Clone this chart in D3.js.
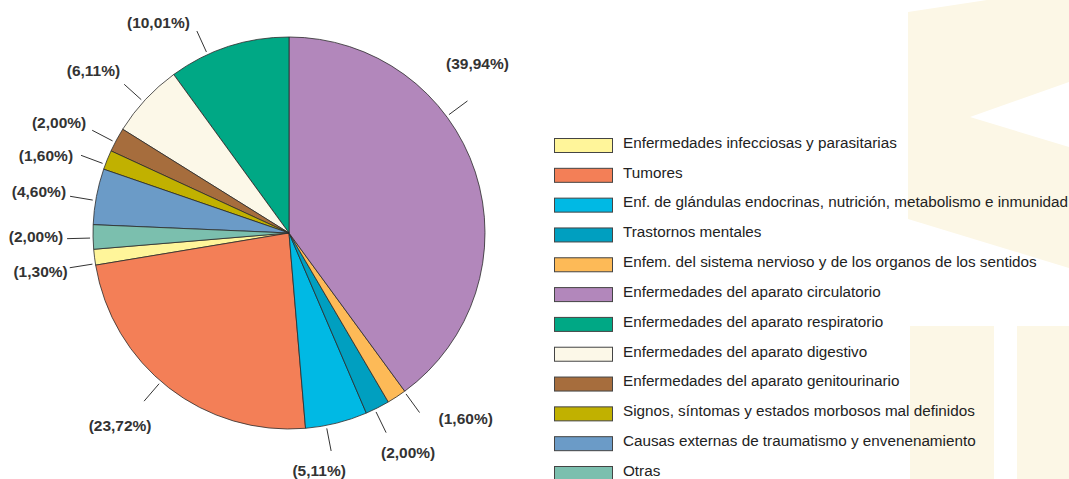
<!DOCTYPE html>
<html lang="es">
<head>
<meta charset="UTF-8">
<title>Defunciones según causa</title>
<script src="https://d3js.org/d3.v7.min.js"></script>
<style>
html,body{margin:0;padding:0;background:#fff}
svg{display:block;font-family:"Liberation Sans",Arial,Helvetica,sans-serif}
.pct{font-size:15.5px;font-weight:bold;fill:#333}
.leg{font-size:15.25px;fill:#222}
.leader{stroke:#333;stroke-width:1;fill:none}
</style>
</head>
<body>
<svg id="chart" width="1069" height="479"></svg>
<script>
// ── Data (legend order) ──
var categories = [
  'Enfermedades infecciosas y parasitarias',
  'Tumores',
  'Enf. de glándulas endocrinas, nutrición, metabolismo e inmunidad',
  'Trastornos mentales',
  'Enfem. del sistema nervioso y de los organos de los sentidos',
  'Enfermedades del aparato circulatorio',
  'Enfermedades del aparato respiratorio',
  'Enfermedades del aparato digestivo',
  'Enfermedades del aparato genitourinario',
  'Signos, síntomas y estados morbosos mal definidos',
  'Causas externas de traumatismo y envenenamiento',
  'Otras'
];
var shares = [1.30, 23.72, 5.11, 2.00, 1.60, 39.94, 10.01, 6.11, 2.00, 1.60, 4.60, 2.00];
var colors = ['#fff59a', '#f37f57', '#00b9e4', '#009fc0', '#fdba57', '#b287bb',
              '#00a885', '#fcf8e8', '#a66d3d', '#c1b100', '#6b9bc7', '#7bbfae'];

// clockwise drawing order, starting at 12 o'clock
var pieOrder = [5, 4, 3, 2, 1, 0, 11, 10, 9, 8, 7, 6];

// ── Layout ──
var W = 1069, H = 479;
var cx = 289, cy = 233, R = 196;
var LEG_X = 554, SW_W = 58, SW_H = 14;

// leader nudges (deg) and label offsets from the leader end, by category index
var labelTweak = {
  5:  { shift: -18.4, anchor: 'middle', dx: 10,  dy: -38 },
  4:  { shift: -2.7,  anchor: 'start',  dx: 19,  dy: 6 },
  3:  { shift: 0.9,   anchor: 'middle', dx: 22,  dy: 20 },
  2:  { shift: 3.1,   anchor: 'middle', dx: -12, dy: 19 },
  1:  { shift: 2.9,   anchor: 'middle', dx: -24, dy: 24 },
  0:  { shift: -1.9,  anchor: 'end',    dx: -2,  dy: 4 },
  11: { shift: -0.3,  anchor: 'end',    dx: -4,  dy: -2 },
  10: { shift: -1.2,  anchor: 'end',    dx: -4,  dy: -5 },
  9:  { shift: -1.4,  anchor: 'end',    dx: -8,  dy: 0 },
  8:  { shift: -0.8,  anchor: 'end',    dx: -6,  dy: -8 },
  7:  { shift: -0.9,  anchor: 'end',    dx: -4,  dy: -14 },
  6:  { shift: -6.5,  anchor: 'end',    dx: -7,  dy: -9 }
};

var svg = d3.select('#chart');
svg.append('rect').attr('width', W).attr('height', H).attr('fill', '#fff');

// faint background logo
var bg = svg.append('g').attr('fill', '#fcf7e6');
bg.append('polygon').attr('points',
  '908,12 987,0 1069,0 1069,82 970,117 1069,147 1069,268 908,219');
bg.append('rect').attr('x', 910).attr('y', 326).attr('width', 84).attr('height', H - 326);
bg.append('rect').attr('x', 1017).attr('y', 326).attr('width', 52).attr('height', H - 326);

// ── Pie ──
var items = categories.map(function(c, i) { return { i: i, name: c, value: shares[i], color: colors[i] }; });
var pie = d3.pie()
  .value(function(d) { return d.value; })
  .sort(function(a, b) { return pieOrder.indexOf(a.i) - pieOrder.indexOf(b.i); });
var arcs = pie(items);
var arc = d3.arc().innerRadius(0).outerRadius(R);

var g = svg.append('g').attr('transform', 'translate(' + cx + ',' + cy + ')');
g.selectAll('path.slice').data(arcs).join('path')
  .attr('class', 'slice')
  .attr('d', arc)
  .attr('fill', function(d) { return d.data.color; })
  .attr('stroke', '#2b2b2b')
  .attr('stroke-width', 0.8)
  .attr('stroke-linejoin', 'round');

// ── Percentage labels ──
var loc = d3.formatLocale({ decimal: ',', thousands: '.', grouping: [3], currency: ['', '€'] });
var fmt = loc.format('.2f');

function polar(a, r) { return [Math.sin(a) * r, -Math.cos(a) * r]; }

arcs.forEach(function(d) {
  var t = labelTweak[d.data.i];
  var a = (d.startAngle + d.endAngle) / 2 + t.shift * Math.PI / 180;
  var p0 = polar(a, R + 3), p1 = polar(a, R + 26);
  g.append('line').attr('class', 'leader')
    .attr('x1', p0[0]).attr('y1', p0[1]).attr('x2', p1[0]).attr('y2', p1[1]);
  g.append('text').attr('class', 'pct')
    .attr('x', p1[0] + t.dx).attr('y', p1[1] + t.dy)
    .attr('dy', '0.36em')
    .attr('text-anchor', t.anchor)
    .text('(' + fmt(d.data.value) + '%)');
});

// ── Legend ──
var ly = d3.scalePoint().domain(d3.range(categories.length)).range([145.5, 473.5]);
var leg = svg.append('g').selectAll('g').data(items).join('g')
  .attr('transform', function(d) { return 'translate(' + LEG_X + ',' + ly(d.i) + ')'; });
leg.append('rect')
  .attr('x', 0.5).attr('y', -SW_H / 2).attr('width', SW_W).attr('height', SW_H)
  .attr('fill', function(d) { return d.color; })
  .attr('stroke', '#444').attr('stroke-width', 1);
leg.append('text').attr('class', 'leg')
  .attr('x', 69).attr('y', 0).attr('dy', '0.15em')
  .text(function(d) { return d.name; });
</script>
</body>
</html>
